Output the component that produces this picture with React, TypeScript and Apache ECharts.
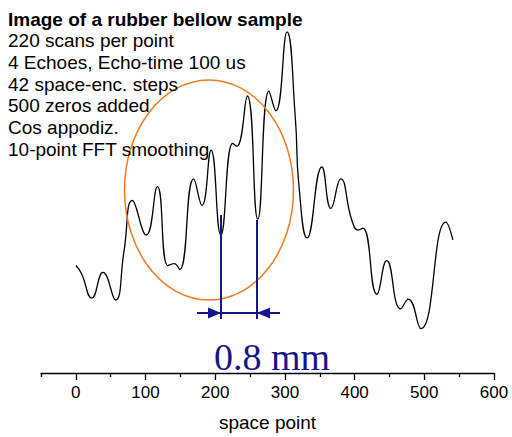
import React, { useEffect, useRef } from "react";
import * as echarts from "echarts";

// space point positions of the traced curve (extrema and a few shoulders)
const xPoints = [0, 8, 23, 39, 57, 69, 81, 101, 117, 132, 141, 149, 169, 181, 194, 208, 225, 231, 246, 261, 277, 287, 303, 315, 320, 332, 353, 366, 380, 396, 405, 412, 432, 446, 466, 477, 495, 531, 541];
// signal (arbitrary units)
const yPoints = [109, 101, 76, 102, 74, 123, 175, 140, 189, 109, 111, 105, 197, 170, 226, 140, 233, 230, 281, 156, 286, 266, 346, 258, 191, 137, 209, 167, 197, 155, 145, 147, 80, 114, 65, 75, 45, 153, 135];

const majorTicks = [0, 100, 200, 300, 400, 500, 600];
const minorTicks = [-50, 50, 150, 250, 350, 450, 550];

const titleLine = "Image of a rubber bellow sample";
const infoLines = [
  "220 scans per point",
  "4 Echoes, Echo-time 100 us",
  "42 space-enc. steps",
  "500 zeros added",
  "Cos appodiz.",
  "10-point FFT smoothing",
];
const measureLabel = "0.8 mm";
const axisName = "space point";

const SANS = "'Liberation Sans', Arial, sans-serif";
const SERIF = "'Liberation Serif', 'Times New Roman', serif";
const BLUE = "#16168c";
const ORANGE = "#f47a20";

export default function App() {
  const ref = useRef<HTMLDivElement>(null);
  useEffect(() => {
    if (!ref.current) return;
    const chart = echarts.init(ref.current, null, { renderer: "svg" });
    const data = xPoints.map((x, i) => [x, yPoints[i]]);

    const textEls: any[] = [];
    textEls.push({
      type: "text",
      left: 8,
      top: 10,
      style: { text: titleLine, font: `bold 19px ${SANS}`, fill: "#000" },
      z: 10,
    });
    infoLines.forEach((t, i) => {
      textEls.push({
        type: "text",
        left: 8,
        top: 31 + i * 21.8,
        style: { text: t, font: `19px ${SANS}`, fill: "#000" },
        z: 10,
      });
    });

    const blueLine = { stroke: BLUE, lineWidth: 2 };

    chart.setOption({
      animation: false,
      grid: { left: 41, right: 18, top: 28, bottom: 59 },
      xAxis: [
        {
          type: "value",
          min: -50,
          max: 600,
          position: "bottom",
          splitLine: { show: false },
          axisLine: { show: true, lineStyle: { color: "#000", width: 1.3 } },
          axisTick: {
            show: true,
            inside: false,
            length: 7,
            customValues: majorTicks,
            lineStyle: { color: "#000", width: 1.3 },
          },
          axisLabel: {
            show: true,
            customValues: majorTicks,
            margin: 11,
            fontSize: 17,
            fontFamily: SANS,
            color: "#000",
          },
          name: axisName,
          nameLocation: "middle",
          nameGap: 40,
          nameTextStyle: { fontSize: 19, fontFamily: SANS, color: "#000" },
        },
        {
          type: "value",
          min: -50,
          max: 600,
          position: "bottom",
          splitLine: { show: false },
          axisLine: { show: false },
          axisTick: {
            show: true,
            inside: false,
            length: 4,
            customValues: minorTicks,
            lineStyle: { color: "#000", width: 1.3 },
          },
          axisLabel: { show: false },
        },
      ],
      yAxis: { type: "value", min: 0, max: 350, show: false },
      series: [
        {
          type: "line",
          data,
          smooth: 0.5,
          showSymbol: false,
          lineStyle: { color: "#000", width: 1.3 },
          xAxisIndex: 0,
        },
      ],
      graphic: [
        ...textEls,
        {
          type: "ellipse",
          shape: { cx: 209, cy: 190, rx: 84.5, ry: 110 },
          style: { fill: "none", stroke: ORANGE, lineWidth: 1.5 },
          z: 5,
        },
        { type: "line", shape: { x1: 221, y1: 215, x2: 221, y2: 319 }, style: blueLine, z: 6 },
        { type: "line", shape: { x1: 257, y1: 220, x2: 257, y2: 319 }, style: blueLine, z: 6 },
        { type: "line", shape: { x1: 197, y1: 313, x2: 280, y2: 313 }, style: blueLine, z: 6 },
        {
          type: "polygon",
          shape: { points: [[221, 313], [208, 307.5], [208, 318.5]] },
          style: { fill: BLUE },
          z: 6,
        },
        {
          type: "polygon",
          shape: { points: [[257, 313], [270, 307.5], [270, 318.5]] },
          style: { fill: BLUE },
          z: 6,
        },
        {
          type: "text",
          x: 272,
          y: 357,
          style: {
            text: measureLabel,
            font: `38px ${SERIF}`,
            fill: BLUE,
            align: "center",
            verticalAlign: "middle",
          },
          z: 6,
        },
      ],
    });
    return () => chart.dispose();
  }, []);
  return (
    <div
      ref={ref}
      style={{ position: "absolute", left: 0, top: 0, width: 512, height: 437 }}
    />
  );
}
